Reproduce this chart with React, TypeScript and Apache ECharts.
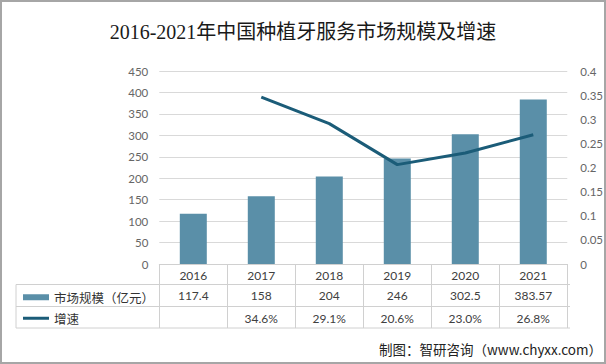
import React, { useEffect, useRef } from "react";
import * as echarts from "echarts";

const years = ["2016", "2017", "2018", "2019", "2020", "2021"];
const marketSize = [117.4, 158, 204, 246, 302.5, 383.57];
const growthPct: (number | null)[] = [null, 34.6, 29.1, 20.6, 23.0, 26.8];
const leftTicks = { min: 0, max: 450, interval: 50 };
const rightTicks = { min: 0, max: 0.4, interval: 0.05 };

const W = 606;
const H = 364;
const GRID = { left: 159.3, right: 36, top: 71, bottom: 100 };
const TABLE_LEFT = 16;
const ROW_LINES = [284.5, 306.5, 328];

const BAR_COLOR = "#5a8fa8";
const LINE_COLOR = "#1b5c78";
const GRID_COLOR = "#d9d9d9";
const TABLE_COLOR = "#d0d0d0";
const LABEL_COLOR = "#666666";
const NUM_FONT = "Lato, 'Noto Sans', sans-serif";
const CJK_FONT = "'Noto Sans CJK SC', 'Noto Sans', sans-serif";

export default function App() {
  const ref = useRef<HTMLDivElement>(null);
  useEffect(() => {
    if (!ref.current) return;
    const chart = echarts.init(ref.current, undefined, { renderer: "svg" });
    const axisBottom = H - GRID.bottom;
    const plotRight = W - GRID.right;
    const tableLines: any[] = ROW_LINES.map((y) => ({
      type: "line",
      shape: { x1: TABLE_LEFT, y1: y, x2: plotRight, y2: y },
      style: { stroke: TABLE_COLOR, lineWidth: 1 },
      silent: true,
    }));
    tableLines.push({
      type: "line",
      shape: { x1: TABLE_LEFT, y1: ROW_LINES[0], x2: TABLE_LEFT, y2: ROW_LINES[2] },
      style: { stroke: TABLE_COLOR, lineWidth: 1 },
      silent: true,
    });
    const option: any = {
      animation: false,
      backgroundColor: "#ffffff",
      title: {
        text: "2016-2021年中国种植牙服务市场规模及增速",
        left: "center",
        top: 17,
        textStyle: {
          fontFamily: "'Liberation Serif', 'Noto Sans CJK SC', serif",
          fontSize: 20,
          fontWeight: "normal",
          color: "#1a1a1a",
        },
      },
      legend: {
        orient: "vertical",
        left: 18,
        top: 286,
        itemWidth: 26,
        itemHeight: 6,
        itemGap: 8.5,
        data: [
          { name: "市场规模（亿元）", icon: "rect" },
          { name: "增速", icon: "path://M0,0H26V3H0Z" },
        ],
        textStyle: { fontFamily: CJK_FONT, fontSize: 12.5, color: "#333333" },
      },
      grid: { left: GRID.left, right: GRID.right, top: GRID.top, bottom: GRID.bottom },
      xAxis: [
        {
          type: "category",
          data: years,
          axisLine: { show: true, lineStyle: { color: TABLE_COLOR } },
          axisTick: { show: true, length: ROW_LINES[2] - axisBottom, lineStyle: { color: TABLE_COLOR } },
          axisLabel: { interval: 0, margin: 5, fontFamily: NUM_FONT, fontSize: 12, color: "#404040" },
        },
        {
          type: "category",
          data: marketSize.map((v) => String(v)),
          position: "bottom",
          offset: 20.7,
          axisLine: { show: false },
          axisTick: { show: false },
          axisLabel: { interval: 0, margin: 5, fontFamily: NUM_FONT, fontSize: 12, color: "#404040" },
        },
        {
          type: "category",
          data: growthPct.map((v) => (v == null ? "" : v.toFixed(1) + "%")),
          position: "bottom",
          offset: 43,
          axisLine: { show: false },
          axisTick: { show: false },
          axisLabel: { interval: 0, margin: 5, fontFamily: NUM_FONT, fontSize: 12, color: "#404040" },
        },
      ],
      yAxis: [
        {
          type: "value",
          min: leftTicks.min,
          max: leftTicks.max,
          interval: leftTicks.interval,
          axisLine: { show: false },
          axisTick: { show: false },
          splitLine: { lineStyle: { color: GRID_COLOR } },
          axisLabel: { margin: 11, fontFamily: NUM_FONT, fontSize: 11.5, color: LABEL_COLOR },
        },
        {
          type: "value",
          min: rightTicks.min,
          max: rightTicks.max,
          interval: rightTicks.interval,
          axisLine: { show: false },
          axisTick: { show: false },
          splitLine: { show: false },
          axisLabel: { margin: 13, fontFamily: NUM_FONT, fontSize: 11.5, color: LABEL_COLOR },
        },
      ],
      series: [
        {
          name: "市场规模（亿元）",
          type: "bar",
          xAxisIndex: 0,
          yAxisIndex: 0,
          data: marketSize,
          barWidth: 27,
          itemStyle: { color: BAR_COLOR },
        },
        {
          name: "增速",
          type: "line",
          xAxisIndex: 0,
          yAxisIndex: 1,
          data: growthPct.map((v) => (v == null ? null : v / 100)),
          symbol: "none",
          lineStyle: { color: LINE_COLOR, width: 3 },
          itemStyle: { color: LINE_COLOR },
        },
      ],
      graphic: [
        ...tableLines,
        {
          type: "text",
          right: 4,
          top: 342,
          style: {
            text: "制图：智研咨询（www.chyxx.com）",
            fontFamily: CJK_FONT,
            fontSize: 13.5,
            fill: "#222222",
          },
        },
        {
          type: "rect",
          shape: { x: 1, y: 1, width: W - 2, height: H - 2 },
          style: { fill: "none", stroke: "#a6a6a6", lineWidth: 2 },
          silent: true,
        },
      ],
    };
    chart.setOption(option);
    return () => chart.dispose();
  }, []);
  return (
    <div
      ref={ref}
      style={{ position: "absolute", left: 0, top: 0, width: W, height: H }}
    />
  );
}
